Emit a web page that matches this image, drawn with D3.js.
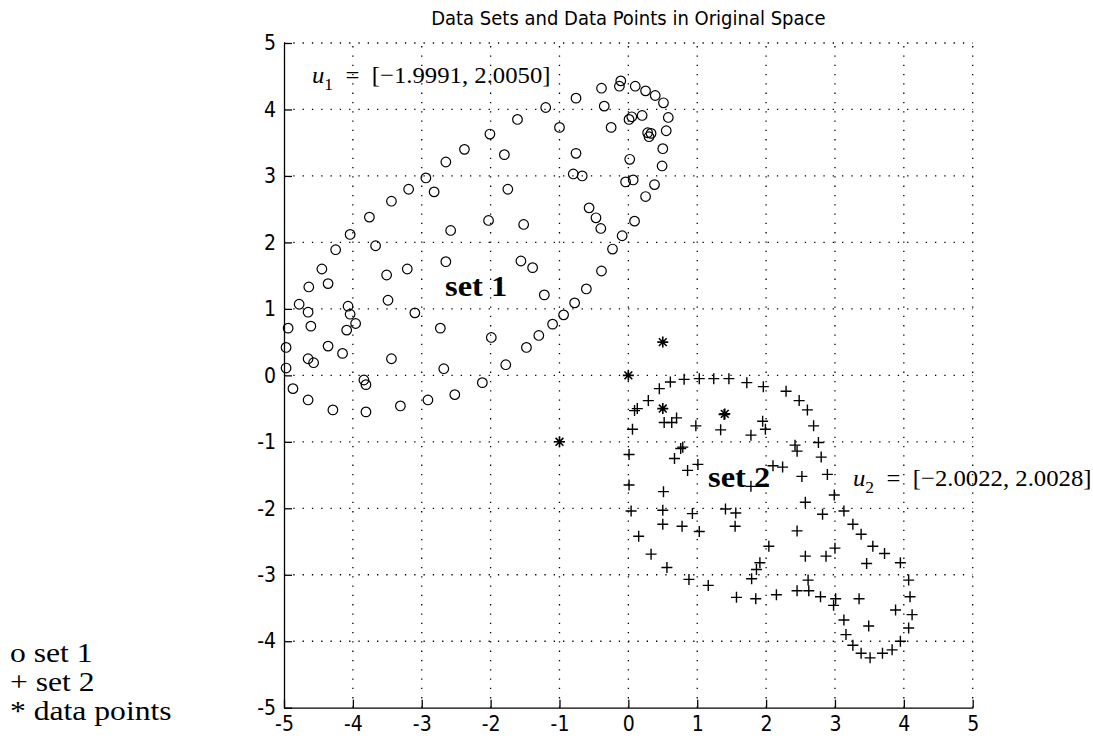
<!DOCTYPE html>
<html>
<head>
<meta charset="utf-8">
<script src="https://cdn.jsdelivr.net/npm/d3@7"></script>
<style>
  body { margin: 0; background: #fff; }
  svg { display: block; }
</style>
</head>
<body>
<div id="vis"></div>
<script>
// set 1 (circles)
const set1 = [
  [-0.39, 4.32], [-0.11, 4.43], [-0.13, 4.35], [0.10, 4.35], [0.25, 4.28], [0.39, 4.21],
  [0.51, 4.10], [-0.35, 4.05], [0.58, 3.88], [0.01, 3.85], [0.05, 3.89], [0.20, 3.91],
  [-0.25, 3.73], [0.28, 3.65], [0.33, 3.64], [0.30, 3.59], [0.55, 3.68], [0.50, 3.41],
  [0.02, 3.25], [0.49, 3.15], [-0.04, 2.91], [0.07, 2.94], [0.38, 2.87], [0.25, 2.69],
  [0.09, 2.32], [-0.09, 2.10], [-0.57, 2.52], [-0.47, 2.37], [-0.40, 2.21], [-0.23, 1.90],
  [-0.76, 3.34], [-0.80, 3.03], [-0.67, 3.00], [-1.20, 4.03], [-0.76, 4.17], [-1.61, 3.85],
  [-1.00, 3.73], [-2.01, 3.63], [-1.80, 3.32], [-1.75, 2.80], [-2.03, 2.33], [-1.52, 2.27],
  [-0.39, 1.57], [-1.56, 1.72], [-1.39, 1.62], [-0.61, 1.30], [-1.22, 1.21], [-0.78, 1.09],
  [-0.94, 0.91], [-1.10, 0.77], [-1.30, 0.60], [-1.99, 0.57], [-1.48, 0.42], [-1.78, 0.16],
  [-2.12, -0.11], [-2.38, 3.40], [-2.65, 3.21], [-2.94, 2.97], [-2.82, 2.76], [-3.19, 2.80],
  [-3.44, 2.62], [-3.76, 2.38], [-4.04, 2.12], [-2.58, 2.18], [-3.67, 1.95], [-4.25, 1.89],
  [-2.65, 1.71], [-4.45, 1.60], [-3.21, 1.60], [-3.51, 1.51], [-4.36, 1.38], [-4.64, 1.33],
  [-3.49, 1.13], [-4.78, 1.07], [-4.65, 0.95], [-4.07, 1.04], [-4.04, 0.92], [-3.10, 0.94],
  [-3.96, 0.78], [-4.61, 0.74], [-4.94, 0.71], [-4.09, 0.68], [-2.73, 0.71], [-4.97, 0.42],
  [-4.36, 0.44], [-4.15, 0.33], [-4.65, 0.25], [-4.57, 0.19], [-3.44, 0.25], [-4.97, 0.11],
  [-2.68, 0.10], [-3.84, -0.07], [-3.81, -0.14], [-4.87, -0.20], [-4.65, -0.37], [-4.29, -0.52],
  [-3.81, -0.55], [-3.31, -0.46], [-2.91, -0.37], [-2.52, -0.29]
];

// set 2 (plus signs)
const set2 = [
  [0.45, -0.20], [0.61, -0.10], [0.81, -0.06], [1.03, -0.05], [1.24, -0.05], [1.46, -0.05],
  [1.72, -0.11], [1.96, -0.17], [2.29, -0.24], [2.48, -0.38], [2.60, -0.52], [2.69, -0.76],
  [0.29, -0.38], [0.09, -0.53], [0.13, -0.50], [0.52, -0.71], [0.63, -0.71], [0.70, -0.64],
  [0.06, -0.81], [0.98, -0.76], [1.39, -0.59], [1.34, -0.82], [1.78, -0.90], [1.95, -0.69],
  [1.99, -0.81], [2.42, -1.05], [2.45, -1.14], [2.76, -1.01], [2.80, -1.23], [0.01, -1.19],
  [0.76, -1.10], [0.79, -1.08], [0.67, -1.25], [0.86, -1.43], [1.01, -1.34], [2.10, -1.36],
  [2.24, -1.38], [2.52, -1.52], [2.89, -1.49], [0.01, -1.65], [0.51, -1.75], [1.78, -1.67],
  [2.99, -1.80], [0.04, -2.04], [0.50, -2.03], [0.50, -2.24], [0.78, -2.27], [0.93, -2.08],
  [1.03, -2.35], [1.41, -2.01], [1.56, -2.07], [1.55, -2.27], [2.57, -1.91], [2.82, -2.09],
  [3.13, -2.04], [3.26, -2.24], [3.38, -2.39], [2.45, -2.34], [0.15, -2.42], [0.33, -2.69],
  [0.56, -2.89], [0.88, -3.07], [1.16, -3.16], [1.57, -3.34], [1.85, -3.36], [2.15, -3.30],
  [2.04, -2.57], [1.91, -2.82], [1.86, -2.92], [1.79, -3.06], [2.57, -2.72], [2.87, -2.72],
  [3.00, -2.60], [3.55, -2.57], [3.72, -2.68], [3.46, -2.83], [3.95, -2.82], [2.61, -3.08],
  [2.45, -3.24], [2.62, -3.24], [2.79, -3.33], [3.01, -3.36], [2.98, -3.46], [3.35, -3.36],
  [4.07, -3.08], [4.09, -3.33], [3.88, -3.53], [4.12, -3.60], [4.07, -3.80], [3.95, -4.00],
  [3.83, -4.13], [3.69, -4.18], [3.51, -4.25], [3.38, -4.18], [3.26, -4.06], [3.16, -3.90],
  [3.13, -3.68], [3.49, -3.77]
];

// the data points (asterisks)
const dataPoints = [[0, 0], [0.5, 0.5], [-1, -1], [0.5, -0.5], [1.4, -0.58]];

const tickValues = [-5, -4, -3, -2, -1, 0, 1, 2, 3, 4, 5];
const legendLines = ["o set 1", "+ set 2", "* data points"];

const width = 1093, height = 740;
const margin = { top: 43, right: 120, bottom: 32, left: 284 };

const svg = d3.select("#vis")
  .append("svg")
  .attr("width", width)
  .attr("height", height);

svg.append("rect").attr("width", width).attr("height", height).attr("fill", "#fff");

const x = d3.scaleLinear()
  .domain([-5, 5])
  .range([margin.left, width - margin.right - 0.3]);

const y = d3.scaleLinear()
  .domain([-5, 5])
  .range([height - margin.bottom - 0.3, margin.top]);

const sansFont = "'Liberation Sans Narrow', 'DejaVu Sans Condensed', 'Liberation Sans', Arial, sans-serif";
const serifFont = "'Liberation Serif', 'Times New Roman', serif";

// dotted grid
const grid = svg.append("g").attr("stroke", "#000").attr("stroke-width", 1.3)
  .attr("stroke-dasharray", "1.3,8").attr("fill", "none");
grid.selectAll(".vgrid")
  .data(tickValues.slice(1))
  .enter().append("line")
  .attr("x1", d => x(d)).attr("x2", d => x(d))
  .attr("y1", y(-5)).attr("y2", y(5));
grid.selectAll(".hgrid")
  .data(tickValues.slice(1))
  .enter().append("line")
  .attr("y1", d => y(d)).attr("y2", d => y(d))
  .attr("x1", x(-5)).attr("x2", x(5));

// axes
const fmt = d => d < 0 ? "-" + Math.abs(d) : d;
const xAxis = svg.append("g")
  .attr("transform", `translate(0, ${y(-5)})`)
  .call(d3.axisBottom(x).tickValues(tickValues).tickSizeInner(-8).tickSizeOuter(0).tickPadding(8)
    .tickFormat(fmt));
xAxis.selectAll("text").attr("dy", "0.72em");

const yAxis = svg.append("g")
  .attr("transform", `translate(${x(-5)}, 0)`)
  .call(d3.axisLeft(y).tickValues(tickValues).tickSizeInner(-8).tickSizeOuter(0).tickPadding(8)
    .tickFormat(fmt));

[xAxis, yAxis].forEach(g => {
  g.attr("font-family", sansFont).attr("font-size", 21);
  g.selectAll("text").attr("fill", "#000");
  g.selectAll("line, path").attr("stroke", "#000").attr("stroke-width", 1.3);
});

// title
svg.append("text")
  .attr("x", (x(-5) + x(5)) / 2)
  .attr("y", 25)
  .attr("text-anchor", "middle")
  .attr("font-family", sansFont)
  .attr("font-size", 20)
  .text("Data Sets and Data Points in Original Space");

// markers
const marks = svg.append("g").attr("stroke", "#000").attr("fill", "none").attr("stroke-width", 1.2);

marks.selectAll(".c")
  .data(set1)
  .enter().append("circle")
  .attr("cx", d => x(d[0]))
  .attr("cy", d => y(d[1]))
  .attr("r", 4.8);

const plusPath = "M-5.5,0H5.5M0,-5.5V5.5";
marks.selectAll(".p")
  .data(set2)
  .enter().append("path")
  .attr("transform", d => `translate(${x(d[0])},${y(d[1])})`)
  .attr("d", plusPath)
  .attr("stroke-width", 1.4);

const starPath = "M-5.5,0H5.5M0,-5.5V5.5M-3.9,-3.9L3.9,3.9M-3.9,3.9L3.9,-3.9";
marks.selectAll(".s")
  .data(dataPoints)
  .enter().append("path")
  .attr("transform", d => `translate(${x(d[0])},${y(d[1])})`)
  .attr("d", starPath)
  .attr("stroke-width", 1.6);

// annotations (serif text in the reference is a little wide, hence the x scale)
function wideText(px, py, sx) {
  return svg.append("text")
    .attr("transform", `translate(${px},${py}) scale(${sx},1)`)
    .attr("font-family", serifFont);
}

function uLabel(px, py, sub, val) {
  const t = wideText(px, py, 1.03).attr("font-size", 24);
  t.append("tspan").attr("font-style", "italic").text("u");
  t.append("tspan").attr("font-size", 17).attr("dy", 7).text(sub);
  t.append("tspan").attr("dy", -7).text("\u00A0\u00A0=\u00A0\u00A0" + val);
}
uLabel(312, 83, "1", "[\u22121.9991, 2.0050]");
uLabel(853, 486, "2", "[\u22122.0022, 2.0028]");

wideText(445, 296, 1.12).attr("font-weight", "bold").attr("font-size", 29).text("set 1");
wideText(708, 487, 1.12).attr("font-weight", "bold").attr("font-size", 29).text("set 2");

// legend text at left
legendLines.forEach((d, i) => {
  wideText(10, 662 + i * 29, 1.13).attr("font-size", 28).text(d);
});
</script>
</body>
</html>
